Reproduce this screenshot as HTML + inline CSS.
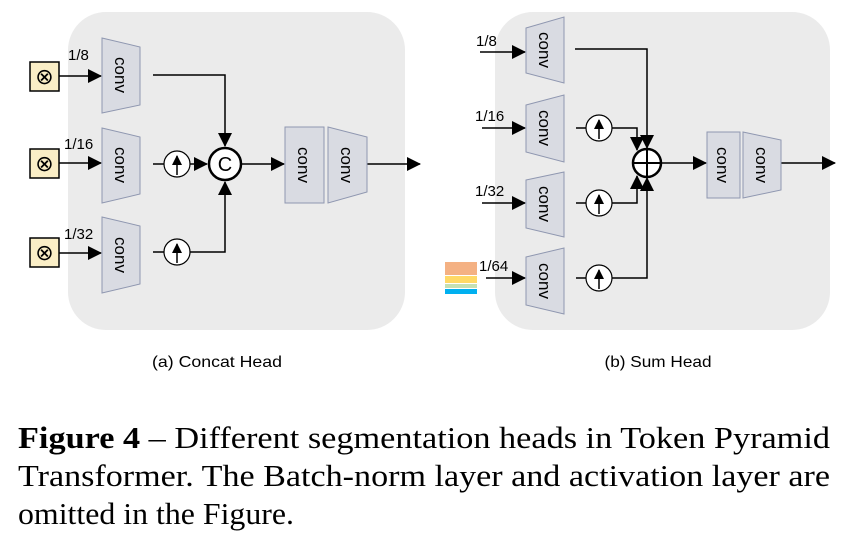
<!DOCTYPE html>
<html><head><meta charset="utf-8"><style>
html,body{margin:0;padding:0;background:#fff;width:853px;height:541px;overflow:hidden}
</style></head><body>
<svg width="853" height="541" viewBox="0 0 853 541" xmlns="http://www.w3.org/2000/svg">
<defs>
<marker id="a" markerWidth="10" markerHeight="10" refX="9" refY="5" orient="auto" markerUnits="userSpaceOnUse">
<path d="M0,0 L10,5 L0,10 z" fill="#000"/></marker>
<marker id="b" markerWidth="14" markerHeight="14" refX="13" refY="7" orient="auto" markerUnits="userSpaceOnUse">
<path d="M0,0 L14,7 L0,14 z" fill="#000"/></marker>
</defs>
<rect x="68" y="12" width="337" height="318" rx="38" fill="#ebebeb"/>
<rect x="495" y="12" width="335" height="318" rx="38" fill="#ebebeb"/>
<g font-family="Liberation Sans, sans-serif" font-size="15" fill="#000">
<!-- left panel -->
<g fill="#faeec6" stroke="#000" stroke-width="1.5">
<rect x="30" y="62" width="29" height="29"/><rect x="30" y="149" width="29" height="29"/><rect x="30" y="238" width="29" height="29"/></g>
<g font-size="22" text-anchor="middle"><text x="44.5" y="84">⊗</text><text x="44.5" y="171">⊗</text><text x="44.5" y="260">⊗</text></g>
<g stroke="#000" stroke-width="1.5" fill="none">
<line x1="59" y1="76" x2="101" y2="76" marker-end="url(#b)"/>
<line x1="59" y1="163" x2="101" y2="163" marker-end="url(#b)"/>
<line x1="59" y1="253" x2="101" y2="253" marker-end="url(#b)"/>
<polyline points="153,75 225,75 225,146" marker-end="url(#b)"/>
<line x1="153" y1="164" x2="164" y2="164"/>
<line x1="190" y1="164" x2="207" y2="164" marker-end="url(#b)"/>
<line x1="153" y1="252" x2="164" y2="252"/>
<polyline points="190,252 225,252 225,182" marker-end="url(#b)"/>
<line x1="241" y1="164" x2="284" y2="164" marker-end="url(#b)"/>
<line x1="367" y1="164" x2="420" y2="164" marker-end="url(#b)"/>
</g>
<g fill="#d9dbe2" stroke="#8f97b0" stroke-width="1">
<polygon points="102,38 140,47 140,105 102,113"/>
<polygon points="102,128 140,137 140,194 102,203"/>
<polygon points="102,217 140,226 140,284 102,293"/>
<rect x="285" y="127" width="39" height="76"/>
<polygon points="328,127 367,137 367,192 328,203"/>
</g>
<circle cx="225" cy="164" r="16" fill="#fff" stroke="#000" stroke-width="2.5"/>
<text x="225" y="171" font-size="20" text-anchor="middle">C</text>
<g stroke="#000" stroke-width="1.2" fill="#fff"><circle cx="177" cy="164" r="13"/><circle cx="177" cy="252" r="13"/></g>
<g stroke="#000" stroke-width="1.5" fill="none"><line x1="177" y1="175" x2="177" y2="156" marker-end="url(#a)"/><line x1="177" y1="263" x2="177" y2="244" marker-end="url(#a)"/></g>
<text x="68" y="60">1/8</text><text x="64" y="149">1/16</text><text x="64" y="239">1/32</text>
<g font-size="17">
<text transform="translate(115,75) rotate(90)" text-anchor="middle">conv</text>
<text transform="translate(115,165) rotate(90)" text-anchor="middle">conv</text>
<text transform="translate(115,255) rotate(90)" text-anchor="middle">conv</text>
<text transform="translate(298,165) rotate(90)" text-anchor="middle">conv</text>
<text transform="translate(341,165) rotate(90)" text-anchor="middle">conv</text>
</g>
<!-- right panel -->
<rect x="445" y="262" width="32" height="13" fill="#f4b183"/>
<rect x="445" y="276" width="32" height="7" fill="#ffd966"/>
<rect x="445" y="284" width="32" height="4" fill="#c5e0b4"/>
<rect x="445" y="289" width="32" height="5" fill="#00b0f0"/>
<g stroke="#000" stroke-width="1.5" fill="none">
<line x1="480" y1="52" x2="525" y2="52" marker-end="url(#b)"/>
<line x1="482" y1="128" x2="525" y2="128" marker-end="url(#b)"/>
<line x1="482" y1="203" x2="525" y2="203" marker-end="url(#b)"/>
<line x1="486" y1="278" x2="525" y2="278" marker-end="url(#b)"/>
<polyline points="575,49 647,49 647,148" marker-end="url(#b)"/>
<line x1="576" y1="128" x2="586" y2="128"/>
<polyline points="612,128 637,128 637,150" marker-end="url(#b)"/>
<line x1="576" y1="203" x2="586" y2="203"/>
<polyline points="612,203 637,203 637,176" marker-end="url(#b)"/>
<line x1="576" y1="278" x2="586" y2="278"/>
<polyline points="612,278 647,278 647,178" marker-end="url(#b)"/>
<line x1="662" y1="163" x2="706" y2="163" marker-end="url(#b)"/>
<line x1="781" y1="163" x2="835" y2="163" marker-end="url(#b)"/>
</g>
<g fill="#d9dbe2" stroke="#8f97b0" stroke-width="1">
<polygon points="526,28 564,17 564,83 526,73"/>
<polygon points="526,105 564,95 564,162 526,152"/>
<polygon points="526,180 564,172 564,237 526,228"/>
<polygon points="526,257 564,248 564,314 526,305"/>
<rect x="707" y="132" width="33" height="66"/>
<polygon points="743,132 781,140 781,190 743,198"/>
</g>
<circle cx="647" cy="163" r="14" fill="#fff" stroke="#000" stroke-width="2.5"/>
<g stroke="#000" stroke-width="2"><line x1="633" y1="163" x2="661" y2="163"/><line x1="647" y1="149" x2="647" y2="177"/></g>
<g stroke="#000" stroke-width="1.2" fill="#fff"><circle cx="599" cy="128" r="13"/><circle cx="599" cy="203" r="13"/><circle cx="599" cy="278" r="13"/></g>
<g stroke="#000" stroke-width="1.5" fill="none"><line x1="599" y1="139" x2="599" y2="120" marker-end="url(#a)"/><line x1="599" y1="214" x2="599" y2="195" marker-end="url(#a)"/><line x1="599" y1="289" x2="599" y2="270" marker-end="url(#a)"/></g>
<text x="476" y="46">1/8</text><text x="475" y="121">1/16</text><text x="475" y="196">1/32</text><text x="479" y="271">1/64</text>
<g font-size="17">
<text transform="translate(539,50) rotate(90)" text-anchor="middle">conv</text>
<text transform="translate(539,128) rotate(90)" text-anchor="middle">conv</text>
<text transform="translate(539,204) rotate(90)" text-anchor="middle">conv</text>
<text transform="translate(539,281) rotate(90)" text-anchor="middle">conv</text>
<text transform="translate(717,165) rotate(90)" text-anchor="middle">conv</text>
<text transform="translate(756,165) rotate(90)" text-anchor="middle">conv</text>
</g>
<text x="217" y="367" font-size="16" text-anchor="middle" textLength="130" lengthAdjust="spacingAndGlyphs">(a) Concat Head</text>
<text x="658" y="367" font-size="16" text-anchor="middle" textLength="107" lengthAdjust="spacingAndGlyphs">(b) Sum Head</text>
</g>
<g font-family="Liberation Serif, serif" font-size="31" fill="#000">
<text x="18" y="448" textLength="812" lengthAdjust="spacingAndGlyphs"><tspan font-weight="bold">Figure 4</tspan> – Different segmentation heads in Token Pyramid</text>
<text x="18" y="486" textLength="812" lengthAdjust="spacingAndGlyphs">Transformer.  The Batch-norm layer and activation layer are</text>
<text x="18" y="524" textLength="276" lengthAdjust="spacingAndGlyphs">omitted in the Figure.</text>
</g>
</svg>
</body></html>
